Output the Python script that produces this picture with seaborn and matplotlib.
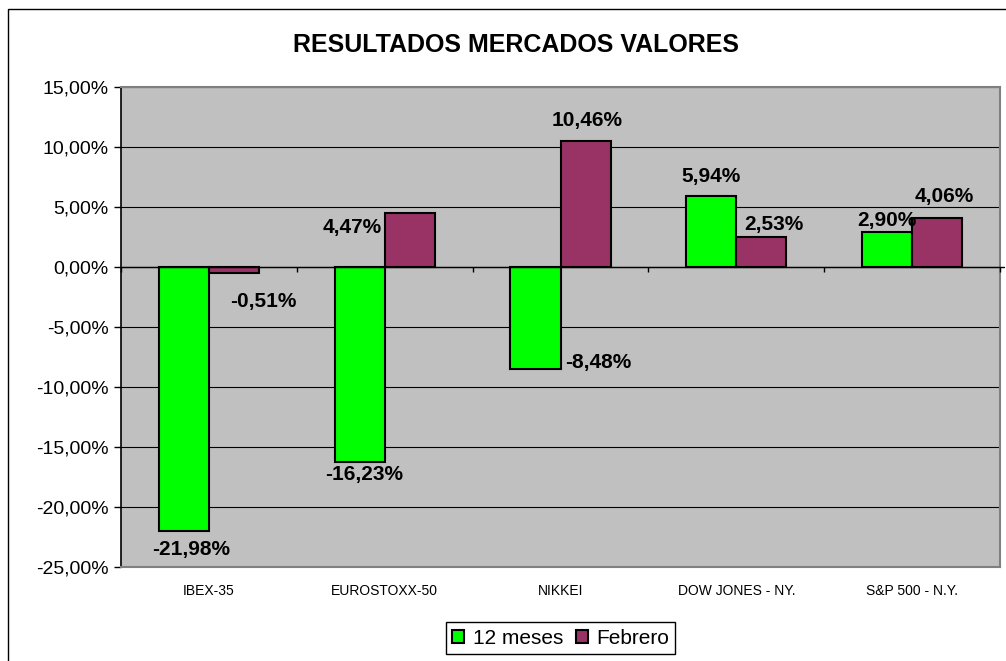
import numpy as np
import pandas as pd
import seaborn as sns
import matplotlib.pyplot as plt
from matplotlib.patches import Rectangle

# datos del grafico
indices = ['IBEX-35', 'EUROSTOXX-50', 'NIKKEI', 'DOW JONES - NY.', 'S&P 500 - N.Y.']
series = ['12 meses', 'Febrero']
doce_meses = [-21.98, -16.23, -8.48, 5.94, 2.90]
febrero = [-0.51, 4.47, 10.46, 2.53, 4.06]
y_ticks = [-25, -20, -15, -10, -5, 0, 5, 10, 15]

# desplazamiento de las etiquetas (pixeles) respecto al extremo de cada barra
offs_12 = [(7, -19), (5, -13), (63, 6), (0, 19), (0, 12)]
offs_feb = [(29, -28), (-58, -14), (2, 21), (12, 12), (7, 22)]

df = pd.DataFrame({
    'indice': indices * 2,
    'serie': [series[0]] * len(indices) + [series[1]] * len(indices),
    'valor': doce_meses + febrero,
})

sns.set_theme(style='white')
plt.rcParams['font.family'] = ['Liberation Sans', 'DejaVu Sans']
plt.rcParams['text.color'] = 'black'
plt.rcParams['xtick.color'] = 'black'
plt.rcParams['ytick.color'] = 'black'

fig = plt.figure(figsize=(10.06, 6.61), dpi=100)
ax = fig.add_axes([121 / 1006, 1 - 567 / 661, 879 / 1006, 480 / 661])
ax.set_facecolor('#C0C0C0')

# borde del grafico (recortado a derecha y abajo)
fig.patches.append(Rectangle((8 / 1006, -0.05), 1.2, 1 - 9 / 661 + 0.05,
                             transform=fig.transFigure, fill=False,
                             edgecolor='black', linewidth=1.0, zorder=0))

for t in y_ticks:
    ax.axhline(t, color='black', linewidth=0.8, zorder=0.5)

sns.barplot(data=df, x='indice', y='valor', hue='serie',
            palette=['#00FF00', '#993366'], saturation=1, width=0.571, gap=0,
            edgecolor='black', linewidth=1.5, ax=ax, zorder=2)

ax.set_ylim(-25, 15)
ax.set_xlim(-0.5, len(indices) - 0.5)
ax.set_yticks(y_ticks)
ax.set_yticklabels([f'{v:.2f}%'.replace('.', ',') for v in y_ticks], fontsize=14)
ax.tick_params(axis='y', length=5, width=1, color='black', pad=4, left=True,
               labelcolor='black')
ax.tick_params(axis='x', length=0, pad=12, labelsize=10, labelcolor='black')
ax.set_xlabel('')
ax.set_ylabel('')

for s in ['top', 'right', 'bottom']:
    ax.spines[s].set_color('#808080')
    ax.spines[s].set_linewidth(1.5)
ax.spines['left'].set_color('black')
ax.spines['left'].set_linewidth(1.2)

# eje de categorias en cero con marcas entre grupos
ax.plot([-0.5, len(indices) - 0.5 + 0.02], [0, 0], color='black', linewidth=1.0,
        clip_on=False, zorder=3)
ax.vlines(np.arange(len(indices) + 1) - 0.5, -0.42, 0, color='black',
          linewidth=1.0, clip_on=False, zorder=3)

for cont, vals, offs in zip(ax.containers, [doce_meses, febrero], [offs_12, offs_feb]):
    for bar, v, (dx, dy) in zip(cont, vals, offs):
        xc = bar.get_x() + bar.get_width() / 2
        ax.annotate(f'{v:.2f}%'.replace('.', ','), (xc, v), xytext=(dx, dy),
                    textcoords='offset pixels', ha='center', va='center',
                    fontsize=15, fontweight='bold', color='black', zorder=4)

fig.text(0.513, 1 - 45 / 661, 'RESULTADOS MERCADOS VALORES', ha='center',
         va='center', fontsize=18, fontweight='bold', color='black')

handles, labels = ax.get_legend_handles_labels()
leg = ax.legend(handles, labels, loc='center', ncol=2,
                bbox_to_anchor=(560.5 / 1006, 1 - 638 / 661), bbox_transform=fig.transFigure,
                fontsize=15, frameon=True, fancybox=False, framealpha=1,
                edgecolor='black', handlelength=0.6, handleheight=0.6,
                handletextpad=0.4, columnspacing=0.6, borderpad=0.3, borderaxespad=0)
leg.get_frame().set_linewidth(1.0)
for txt in leg.get_texts():
    txt.set_color('black')

fig.savefig('out.png', dpi=100)
